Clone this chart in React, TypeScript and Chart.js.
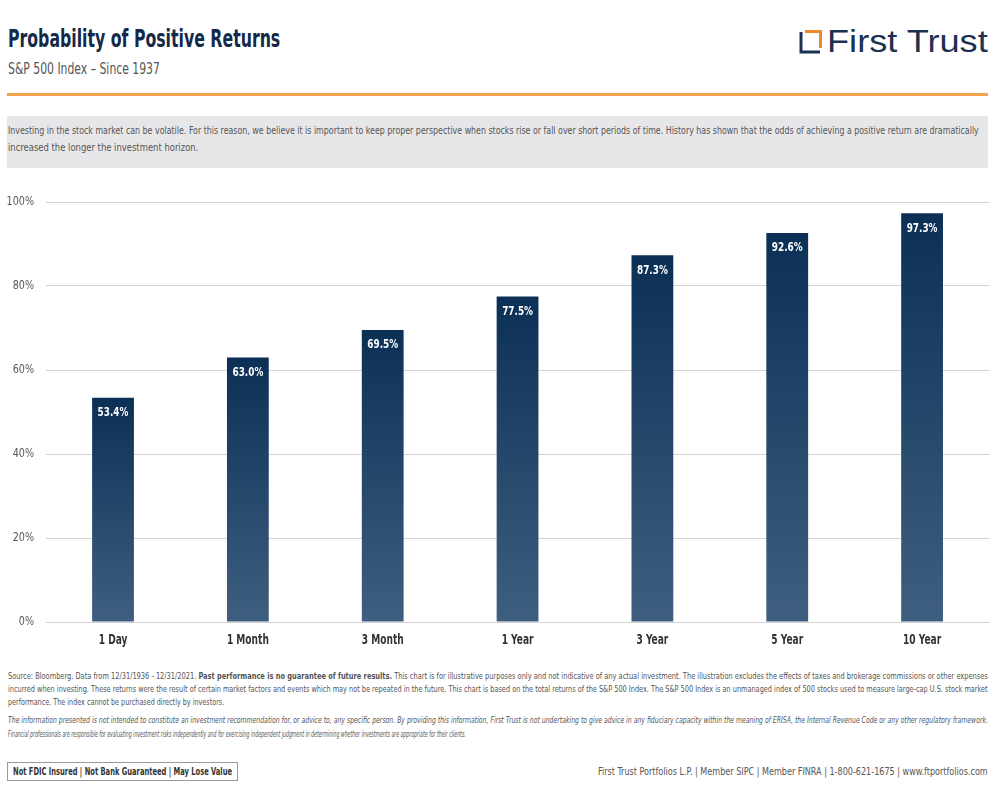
import React, { useEffect, useLayoutEffect, useRef, useState } from "react";
import { Chart, registerables } from "chart.js";

Chart.register(...registerables);

const categories = ["1 Day", "1 Month", "3 Month", "1 Year", "3 Year", "5 Year", "10 Year"];
const probabilities = [53.4, 63.0, 69.5, 77.5, 87.3, 92.6, 97.3];
const yTicks = [0, 20, 40, 60, 80, 100];

const FONT = '"DejaVu Sans Condensed", "DejaVu Sans", sans-serif';

function drawNarrow(ctx: any, text: string, x: number, y: number, sx: number) {
  ctx.save();
  ctx.translate(x, y);
  ctx.scale(sx, 1);
  ctx.fillText(text, 0, 0);
  ctx.restore();
}

const narrowText = {
  id: "narrowText",
  afterDraw(chart: any) {
    const ctx = chart.ctx;
    const xs = chart.scales.x;
    const ys = chart.scales.y;
    const meta = chart.getDatasetMeta(0);
    ctx.save();
    // value labels
    ctx.fillStyle = "#ffffff";
    ctx.font = `bold 13px ${FONT}`;
    ctx.textAlign = "center";
    ctx.textBaseline = "middle";
    meta.data.forEach((bar: any, i: number) => {
      drawNarrow(ctx, probabilities[i].toFixed(1) + "%", bar.x, bar.y + 15, 0.76);
    });
    // x labels
    ctx.fillStyle = "#333333";
    ctx.font = `bold 14px ${FONT}`;
    categories.forEach((c, i) => {
      drawNarrow(ctx, c, xs.getPixelForTick(i), chart.chartArea.bottom + 18, 0.72);
    });
    // y labels
    ctx.fillStyle = "#555555";
    ctx.font = `13px ${FONT}`;
    ctx.textAlign = "right";
    yTicks.forEach((v) => {
      drawNarrow(ctx, v + "%", 34, ys.getPixelForValue(v), 0.82);
    });
    ctx.restore();
  },
};

function Fit({ w, style, children }: { w: number; style?: React.CSSProperties; children: React.ReactNode }) {
  const r = useRef<HTMLSpanElement>(null);
  const [s, setS] = useState(1);
  useLayoutEffect(() => {
    const measure = () => {
      const el = r.current;
      if (el && el.offsetWidth) setS(w / el.offsetWidth);
    };
    measure();
    if ((document as any).fonts) (document as any).fonts.ready.then(measure);
  }, [w]);
  return (
    <span
      ref={r}
      style={{
        position: "absolute",
        display: "inline-block",
        whiteSpace: "nowrap",
        transform: `scaleX(${s})`,
        transformOrigin: "left top",
        lineHeight: 1,
        ...style,
      }}
    >
      {children}
    </span>
  );
}

export default function App() {
  const ref = useRef<HTMLCanvasElement>(null);
  useEffect(() => {
    if (!ref.current) return;
    const chart = new Chart(ref.current, {
      type: "bar",
      data: {
        labels: categories,
        datasets: [
          {
            data: probabilities,
            backgroundColor: (c: any) => {
              const ch = c.chart;
              const y = ch.scales && ch.scales.y;
              if (!y || c.dataIndex === undefined || !ch.chartArea) return "#1d416a";
              const top = y.getPixelForValue(probabilities[c.dataIndex]);
              const bottom = y.getPixelForValue(0);
              const g = ch.ctx.createLinearGradient(0, top, 0, bottom);
              g.addColorStop(0, "#0c2f56");
              g.addColorStop(1, "#3e5f7f");
              return g;
            },
            borderWidth: 0,
            barPercentage: 0.31,
            categoryPercentage: 1,
          },
        ],
      },
      options: {
        animation: false,
        responsive: false,
        maintainAspectRatio: false,
        layout: { padding: { left: 0, right: 10.5, top: 17, bottom: 0 } },
        plugins: { legend: { display: false }, tooltip: { enabled: false } },
        scales: {
          x: {
            grid: { display: false, drawTicks: false },
            border: { display: false },
            ticks: { display: false },
            afterFit: (s: any) => {
              s.height = 38;
            },
          },
          y: {
            min: 0,
            max: 100,
            afterBuildTicks: (s: any) => {
              s.ticks = yTicks.map((v) => ({ value: v }));
            },
            grid: { color: "#d4d4d4", lineWidth: 1, drawTicks: false },
            border: { display: false },
            ticks: { display: false },
            afterFit: (s: any) => {
              s.width = 45.6;
            },
          },
        },
      },
      plugins: [narrowText],
    });
    return () => chart.destroy();
  }, []);

  const foot: React.CSSProperties = { fontFamily: FONT, fontSize: 9.5, color: "#555", left: 8 };
  const ital: React.CSSProperties = { ...foot, fontStyle: "italic" };

  return (
    <div
      style={{
        position: "absolute",
        left: 0,
        top: 0,
        width: 1000,
        height: 788,
        background: "#fff",
        overflow: "hidden",
      }}
    >
      <Fit w={272} style={{ left: 8, top: 27, fontFamily: FONT, fontWeight: "bold", fontSize: 24, color: "#14294a" }}>
        Probability of Positive Returns
      </Fit>
      <Fit w={152} style={{ left: 8, top: 61, fontFamily: FONT, fontSize: 16, color: "#555" }}>
        S&amp;P 500 Index – Since 1937
      </Fit>
      {/* logo */}
      <svg style={{ position: "absolute", left: 799, top: 29 }} width={25} height={25} viewBox="0 0 25 25">
        <path d="M2 3 L2 23 L21 23" stroke="#1b3152" strokeWidth={3} fill="none" />
        <path d="M6 2.5 L21.5 2.5 L21.5 19" stroke="#ee8a2a" strokeWidth={3} fill="none" />
      </svg>
      <Fit
        w={161}
        style={{
          left: 827,
          top: 26,
          fontFamily: '"Liberation Sans", Arial, sans-serif',
          fontSize: 31,
          color: "#1b3152",
        }}
      >
        First Trust
      </Fit>
      <div style={{ position: "absolute", left: 7, top: 93, width: 981, height: 3, background: "#f0a24e" }} />
      <div style={{ position: "absolute", left: 7, top: 116, width: 981, height: 52, background: "#e7e7ea" }} />
      <Fit w={971} style={{ left: 8, top: 125, fontFamily: FONT, fontSize: 11, color: "#555" }}>
        Investing in the stock market can be volatile. For this reason, we believe it is important to keep proper
        perspective when stocks rise or fall over short periods of time. History has shown that the odds of achieving a
        positive return are dramatically
      </Fit>
      <Fit w={190} style={{ left: 8, top: 142, fontFamily: FONT, fontSize: 11, color: "#555" }}>
        increased the longer the investment horizon.
      </Fit>
      <canvas
        ref={ref}
        width={1000}
        height={475}
        style={{ position: "absolute", left: 0, top: 185, width: 1000, height: 475 }}
      />
      <Fit w={980} style={{ ...foot, top: 671 }}>
        Source: Bloomberg. Data from 12/31/1936 - 12/31/2021. <b>Past performance is no guarantee of future results.</b>{" "}
        This chart is for illustrative purposes only and not indicative of any actual investment. The illustration
        excludes the effects of taxes and brokerage commissions or other expenses
      </Fit>
      <Fit w={980} style={{ ...foot, top: 684 }}>
        incurred when investing. These returns were the result of certain market factors and events which may not be
        repeated in the future. This chart is based on the total returns of the S&amp;P 500 Index. The S&amp;P 500 Index
        is an unmanaged index of 500 stocks used to measure large-cap U.S. stock market
      </Fit>
      <Fit w={216} style={{ ...foot, top: 697 }}>
        performance. The index cannot be purchased directly by investors.
      </Fit>
      <Fit w={980} style={{ ...ital, top: 715 }}>
        The information presented is not intended to constitute an investment recommendation for, or advice to, any
        specific person. By providing this information, First Trust is not undertaking to give advice in any fiduciary
        capacity within the meaning of ERISA, the Internal Revenue Code or any other regulatory framework.
      </Fit>
      <Fit w={458} style={{ ...ital, top: 729 }}>
        Financial professionals are responsible for evaluating investment risks independently and for exercising
        independent judgment in determining whether investments are appropriate for their clients.
      </Fit>
      <div
        style={{
          position: "absolute",
          left: 7,
          top: 762,
          width: 231,
          height: 19,
          border: "1px solid #9a9a9a",
          boxSizing: "border-box",
        }}
      />
      <Fit w={219} style={{ left: 13, top: 767, fontFamily: FONT, fontWeight: "bold", fontSize: 10, color: "#333" }}>
        Not FDIC Insured | Not Bank Guaranteed | May Lose Value
      </Fit>
      <Fit w={390} style={{ left: 598, top: 766, fontFamily: FONT, fontSize: 11, color: "#555" }}>
        First Trust Portfolios L.P. | Member SIPC | Member FINRA | 1-800-621-1675 | www.ftportfolios.com
      </Fit>
    </div>
  );
}
